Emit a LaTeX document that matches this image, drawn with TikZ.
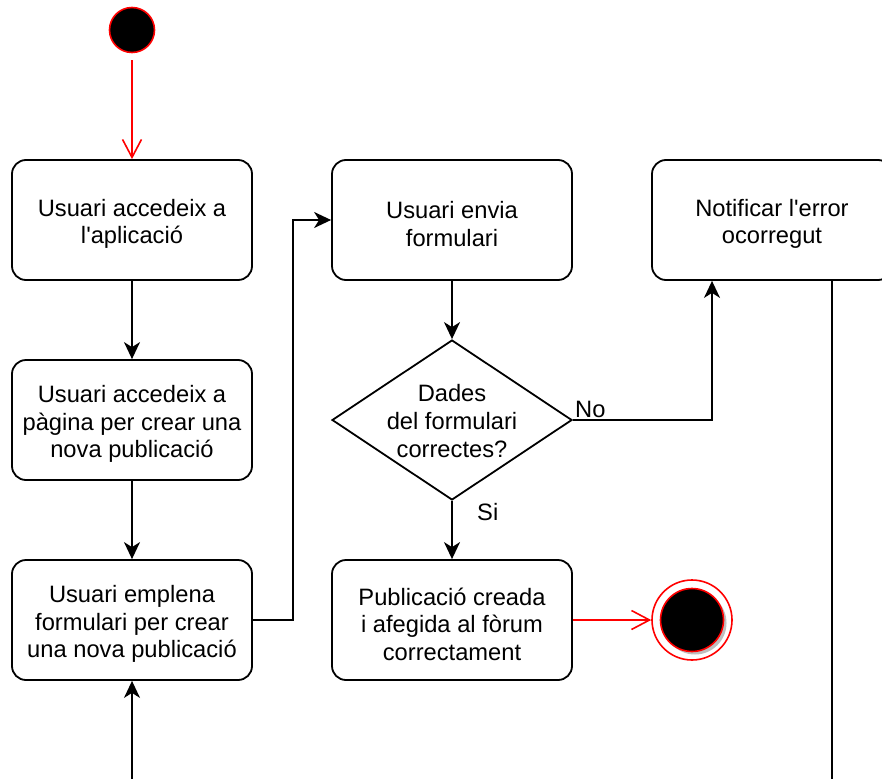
\documentclass[tikz,border=0pt]{standalone}
\usepackage{fontspec}
% a family without TeX ligature mapping keeps ' as a straight apostrophe
\newfontfamily\diagfont{Liberation Sans}
\usetikzlibrary{arrows.meta,shapes.geometric}

\tikzset{
  txt/.style={inner sep=0pt, align=center, yshift=-4pt,
    font=\diagfont\fontsize{23.7}{27.6}\selectfont},
  actbox/.style={draw, line width=1.8pt, rounded corners=14pt,
    minimum width=240pt, minimum height=120pt, inner sep=0pt,
    label={[txt]center:{#1}}},
  flow/.style={draw, line width=1.8pt,
    -{Stealth[length=17pt, width=16pt, inset=5pt]}},
  redflow/.style={draw=red, line width=1.6pt,
    -{Straight Barb[length=18pt, width=19pt, line width=1.6pt]}},
  lbl/.style={inner sep=0pt, font=\diagfont\fontsize{23.7}{27.6}\selectfont}
}

\begin{document}
\begin{tikzpicture}[x=1pt, y=-1pt]
\useasboundingbox (0,0) rectangle (882,778);
\clip (0,0) rectangle (882,778);

% initial state
\node (ini) [circle, draw=red, fill=black, line width=1.6pt,
  minimum size=45pt, inner sep=0pt] at (132,30) {};

% activities
\node (A) [actbox={Usuari accedeix a\\l'aplicació}] at (132,220) {};
\node (B) [actbox={Usuari accedeix a\\pàgina per crear una\\nova publicació}] at (132,420) {};
\node (C) [actbox={Usuari emplena\\formulari per crear\\una nova publicació}] at (132,620) {};
\node (D) [actbox={Usuari envia\\formulari}] at (452,220) {};
\node (E) [actbox={Notificar l'error\\ocorregut}] at (772,220) {};
\node (F) [actbox={Publicació creada\\i afegida al fòrum\\correctament}] at (452,620) {};

% decision
\node (Q) [diamond, draw, line width=1.8pt, minimum width=240pt,
  minimum height=160pt, inner sep=0pt] at (452,420) {};
\node (Qt) [lbl, align=center] at (452,421)
  {Dades\\del formulari\\correctes?};

% final state
\node (fin) [circle, draw=red, fill=white, line width=1.6pt,
  minimum size=80pt, inner sep=0pt] at (692,620) {};
\fill[black!25] (695,623) circle (31.5pt);
\node (finc) [circle, draw=red, fill=black, line width=1.6pt,
  minimum size=63pt, inner sep=0pt] at (692,620) {};

% transitions
\draw[redflow, shorten <=7pt] (ini.south) -- (A.north);
\draw[flow] (A) -- (B);
\draw[flow] (B) -- (C);
\draw[flow] (C.east) -- ++(40,0) |- (D.west);
\draw[flow] (D) -- (Q.north);
\draw[flow] (Q.east) -| ([xshift=-60pt]E.south);
\draw[flow] (Q.south) -- (F.north);
\draw[redflow] (F.east) -- (fin.west);
\draw[flow] ([xshift=60pt]E.south) -- ++(0,540) -| (C.south);

% guard labels
\node[lbl, anchor=base west] (no) at (575,417) {No};
\node[lbl, anchor=base west] (si) at (477,520) {Si};
\end{tikzpicture}
\end{document}
